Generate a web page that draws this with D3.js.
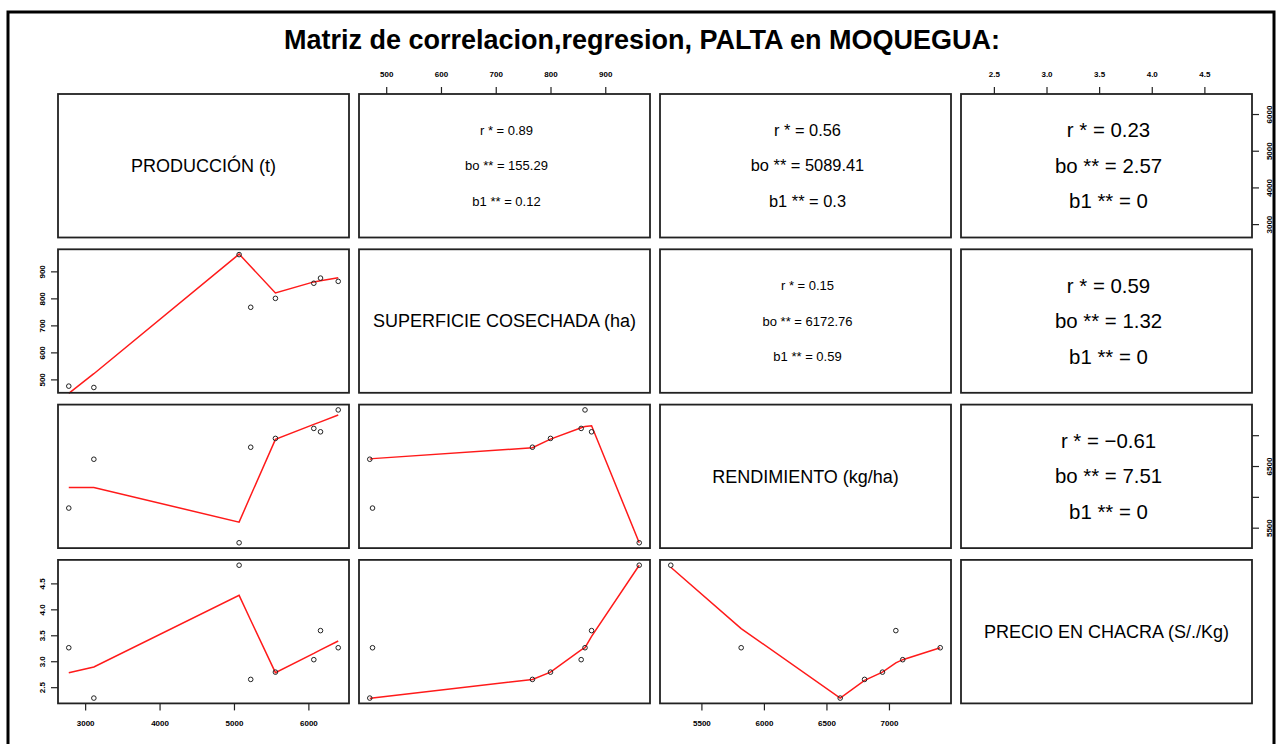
<!DOCTYPE html>
<html>
<head>
    <meta charset="utf-8">
    <title>matriz palta moquegua</title>
    <script src="https://d3js.org/d3.v7.min.js"></script>
    <style>
        body { margin: 0; background: #fff; }
        text { font-family: "Liberation Sans", Arial, sans-serif; }
    </style>
</head>
<body>
    <svg width="1278" height="744" id="mainsvg"></svg>
    <script>
        // datos por año (8 observaciones)
        const produccion = [2780, 3117, 5069, 5225, 5557, 6073, 6163, 6401];
        const superficie = [475, 470, 962, 767, 800, 856, 875, 863];
        const rendimiento = [5818, 6610, 5255, 6805, 6948, 7110, 7055, 7410];
        const precio = [3.26, 2.29, 4.85, 2.65, 2.79, 3.03, 3.59, 3.26];

        const nombres = ['PRODUCCIÓN (t)', 'SUPERFICIE COSECHADA (ha)', 'RENDIMIENTO (kg/ha)', 'PRECIO EN CHACRA (S/./Kg)'];

        const ticksProd = [3000, 4000, 5000, 6000];
        const ticksSup = [500, 600, 700, 800, 900];
        const ticksRend = [5500, 6000, 6500, 7000];
        const ticksPrecio = [2.5, 3.0, 3.5, 4.0, 4.5];

        // curvas suavizadas (lowess), sobre x ordenado
        const suaveSupProd = [448, 521, 964, 918, 820, 861, 865, 876];
        const suaveRendProd = [6151, 6151, 5590, 6022, 6932, 7175, 7216, 7328];
        const suavePrecioProd = [2.78, 2.89, 4.27, 3.79, 2.78, 3.15, 3.22, 3.39];
        const suaveRendSup = [6611, 6620, 6796, 6937, 7121, 7140, 7154, 5255];
        const suavePrecioSup = [2.28, 2.29, 2.65, 2.79, 3.22, 3.26, 3.48, 4.85];
        const suavePrecioRend = [4.81, 3.63, 2.29, 2.63, 2.79, 2.97, 3.03, 3.26];

        // paneles superiores: r, bo, b1
        const rVals = ['0.89', '0.56', '0.23', '0.15', '0.59', '\u22120.61'];
        const boVals = ['155.29', '5089.41', '2.57', '6172.76', '1.32', '7.51'];
        const b1Vals = ['0.12', '0.3', '0', '0.59', '0', '0'];

        const titulo = 'Matriz de correlacion,regresion, PALTA en MOQUEGUA:';

        const svg = d3.select('#mainsvg');
        const vars = [
            { vals: produccion, ticks: ticksProd, fmt: d3.format('d') },
            { vals: superficie, ticks: ticksSup, fmt: d3.format('d') },
            { vals: rendimiento, ticks: ticksRend, fmt: d3.format('d') },
            { vals: precio, ticks: ticksPrecio, fmt: d3.format('.1f') }
        ];
        const suaves = {
            '1-0': suaveSupProd, '2-0': suaveRendProd, '3-0': suavePrecioProd,
            '2-1': suaveRendSup, '3-1': suavePrecioSup, '3-2': suavePrecioRend
        };
        const upperIdx = { '0-1': 0, '0-2': 1, '0-3': 2, '1-2': 3, '1-3': 4, '2-3': 5 };
        const upperSize = [13, 16.4, 20.4, 13, 20.4, 20.4];

        const left0 = 58, stepX = 301, pw = 291;
        const top0 = 94, stepY = 155.3, ph = 143.5;

        // marco exterior
        svg.append('rect')
            .attr('x', 8).attr('y', 12)
            .attr('width', 1266).attr('height', 760)
            .attr('fill', 'none').attr('stroke', '#000').attr('stroke-width', 3);

        svg.append('text')
            .attr('x', 642).attr('y', 49)
            .attr('text-anchor', 'middle')
            .attr('font-size', 27).attr('font-weight', 'bold')
            .text(titulo);

        // escalas como en pairs() de R: rango +/- 4%
        const dominio = v => {
            const [a, b] = d3.extent(v);
            const p = (b - a) * 0.04;
            return [a - p, b + p];
        };
        const xs = vars.map((v, j) => d3.scaleLinear().domain(dominio(v.vals))
            .range([left0 + j * stepX, left0 + j * stepX + pw]));
        const ys = vars.map((v, i) => d3.scaleLinear().domain(dominio(v.vals))
            .range([top0 + i * stepY + ph, top0 + i * stepY]));

        const estiloEje = function (g) {
            g.select('.domain').remove();
            g.selectAll('.tick line').attr('stroke', '#222').attr('stroke-width', 1.2);
            g.selectAll('.tick text').attr('font-size', 8).attr('font-weight', 'bold')
                .attr('font-family', '"Liberation Sans", Arial, sans-serif').attr('fill', '#000');
        };

        for (let i = 0; i < 4; i++) {
            for (let j = 0; j < 4; j++) {
                const x0 = left0 + j * stepX, y0 = top0 + i * stepY;
                const g = svg.append('g');
                if (i > j) {
                    const xv = vars[j].vals, yv = vars[i].vals;
                    const xOrd = d3.sort(xv);
                    const sv = suaves[i + '-' + j];
                    g.append('path')
                        .datum(xOrd.map((x, k) => [x, sv[k]]))
                        .attr('fill', 'none').attr('stroke', '#ff1a1a').attr('stroke-width', 1.5)
                        .attr('d', d3.line().x(d => xs[j](d[0])).y(d => ys[i](d[1])));
                    g.selectAll('circle').data(d3.range(xv.length)).enter().append('circle')
                        .attr('cx', k => xs[j](xv[k]))
                        .attr('cy', k => ys[i](yv[k]))
                        .attr('r', 2.3)
                        .attr('fill', 'none').attr('stroke', '#222').attr('stroke-width', 1);
                } else if (i === j) {
                    g.append('text')
                        .attr('x', x0 + pw / 2).attr('y', y0 + ph / 2)
                        .attr('dy', '0.35em')
                        .attr('text-anchor', 'middle').attr('font-size', 18)
                        .text(nombres[i]);
                } else {
                    const k = upperIdx[i + '-' + j];
                    const fs = upperSize[k];
                    const lineas = ['r * = ' + rVals[k], 'bo ** = ' + boVals[k], 'b1 ** = ' + b1Vals[k]];
                    g.selectAll('text').data(lineas).enter().append('text')
                        .attr('x', x0 + pw / 2 + 2)
                        .attr('y', (d, n) => y0 + ph / 2 + (n - 1) * 35.5)
                        .attr('dy', '0.35em')
                        .attr('text-anchor', 'middle').attr('font-size', fs)
                        .text(d => d);
                }
                g.append('rect')
                    .attr('x', x0).attr('y', y0).attr('width', pw).attr('height', ph)
                    .attr('fill', 'none').attr('stroke', '#222').attr('stroke-width', 1.8);
            }
        }

        // ejes alternados
        for (let j = 0; j < 4; j++) {
            if (j % 2 === 0) {
                svg.append('g')
                    .attr('transform', `translate(0,${top0 + 3 * stepY + ph})`)
                    .call(d3.axisBottom(xs[j]).tickValues(vars[j].ticks).tickFormat(vars[j].fmt).tickSize(7))
                    .call(estiloEje)
                    .call(g => g.selectAll('.tick text').attr('y', 17));
            } else {
                svg.append('g')
                    .attr('transform', `translate(0,${top0})`)
                    .call(d3.axisTop(xs[j]).tickValues(vars[j].ticks).tickFormat(vars[j].fmt).tickSize(7))
                    .call(estiloEje)
                    .call(g => g.selectAll('.tick text').attr('y', -17));
            }
        }
        for (let i = 0; i < 4; i++) {
            const sc = ys[i], tv = vars[i].ticks;
            // en R se omiten etiquetas que se solapan
            const paso = Math.abs(sc(tv[1]) - sc(tv[0]));
            const ancho = vars[i].fmt(tv[0]).length * 8;
            const fmt = (d, n) => (paso < ancho && n % 2 === 1) ? '' : vars[i].fmt(d);
            if (i % 2 === 1) {
                svg.append('g')
                    .attr('transform', `translate(${left0},0)`)
                    .call(d3.axisLeft(sc).tickValues(tv).tickFormat(fmt).tickSize(7))
                    .call(estiloEje)
                    .call(g => g.selectAll('.tick text')
                        .attr('transform', 'rotate(-90)').attr('x', 0).attr('y', -13)
                        .attr('dy', 0).attr('text-anchor', 'middle'));
            } else {
                svg.append('g')
                    .attr('transform', `translate(${left0 + 3 * stepX + pw},0)`)
                    .call(d3.axisRight(sc).tickValues(tv).tickFormat(fmt).tickSize(7))
                    .call(estiloEje)
                    .call(g => g.selectAll('.tick text')
                        .attr('transform', 'rotate(-90)').attr('x', 0).attr('y', 20)
                        .attr('dy', 0).attr('text-anchor', 'middle'));
            }
        }
    </script>
</body>
</html>
